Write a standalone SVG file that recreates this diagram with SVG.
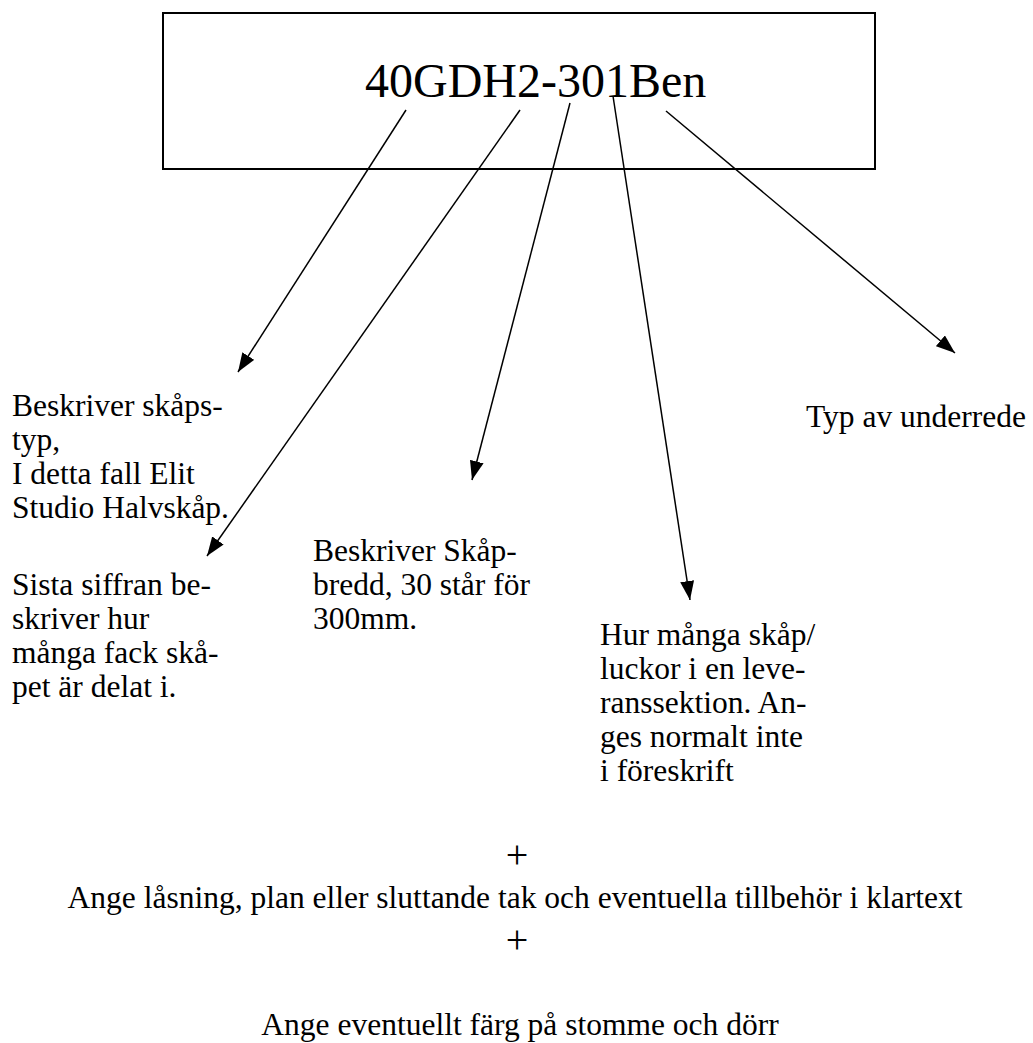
<svg xmlns="http://www.w3.org/2000/svg" width="1033" height="1043" viewBox="0 0 1033 1043">
<style>
  .t { font-family: "Liberation Serif", "Times New Roman", serif; font-size: 31.5px; fill: #000; }
  .p { font-family: "Liberation Serif", "Times New Roman", serif; font-size: 40px; fill: #000; }
  .title { font-family: "Liberation Serif", "Times New Roman", serif; font-size: 48px; fill: #000; }
  .c { stroke: #000; stroke-width: 1.5; fill: none; marker-end: url(#ah); }
</style>
<defs>
  <marker id="ah" markerUnits="userSpaceOnUse" markerWidth="20" markerHeight="14" refX="19" refY="7" orient="auto">
    <path d="M0,0 L19,7 L0,14 Z" fill="#000"/>
  </marker>
</defs>
<rect width="1033" height="1043" fill="#fff"/>
<g id="code-box">
  <rect x="163" y="13" width="712" height="156" fill="#fff" stroke="#000" stroke-width="2"/>
  <text class="title" x="365" y="97">40GDH2-301Ben</text>
</g>
<g id="connectors">
  <line class="c" x1="406" y1="110" x2="238" y2="372"/>
  <line class="c" x1="520" y1="110" x2="207" y2="556"/>
  <line class="c" x1="570" y1="103" x2="472" y2="480"/>
  <line class="c" x1="613" y1="96" x2="690" y2="600"/>
  <line class="c" x1="666" y1="111" x2="955" y2="353"/>
</g>
<g id="note-type">
  <text class="t" x="12" y="416">Beskriver skåps-</text>
  <text class="t" x="12" y="450">typ,</text>
  <text class="t" x="12" y="484">I detta fall Elit</text>
  <text class="t" x="12" y="518">Studio Halvskåp.</text>
</g>
<g id="note-fack">
  <text class="t" x="12" y="595">Sista siffran be-</text>
  <text class="t" x="12" y="629">skriver hur</text>
  <text class="t" x="12" y="663">många fack skå-</text>
  <text class="t" x="12" y="697">pet är delat i.</text>
</g>
<g id="note-bredd">
  <text class="t" x="313" y="561">Beskriver Skåp-</text>
  <text class="t" x="313" y="595">bredd, 30 står för</text>
  <text class="t" x="313" y="629">300mm.</text>
</g>
<g id="note-antal">
  <text class="t" x="600" y="645">Hur många skåp/</text>
  <text class="t" x="600" y="679">luckor i en leve-</text>
  <text class="t" x="600" y="713">ranssektion. An-</text>
  <text class="t" x="600" y="747">ges normalt inte</text>
  <text class="t" x="600" y="781">i föreskrift</text>
</g>
<g id="note-underrede">
  <text class="t" x="806" y="427">Typ av underrede</text>
</g>
<g id="extra">
  <text class="p" x="517" y="868" text-anchor="middle">+</text>
  <text class="t" x="515" y="908" text-anchor="middle">Ange låsning, plan eller sluttande tak och eventuella tillbehör i klartext</text>
  <text class="p" x="517" y="953" text-anchor="middle">+</text>
  <text class="t" x="520" y="1035" text-anchor="middle">Ange eventuellt färg på stomme och dörr</text>
</g>
</svg>
